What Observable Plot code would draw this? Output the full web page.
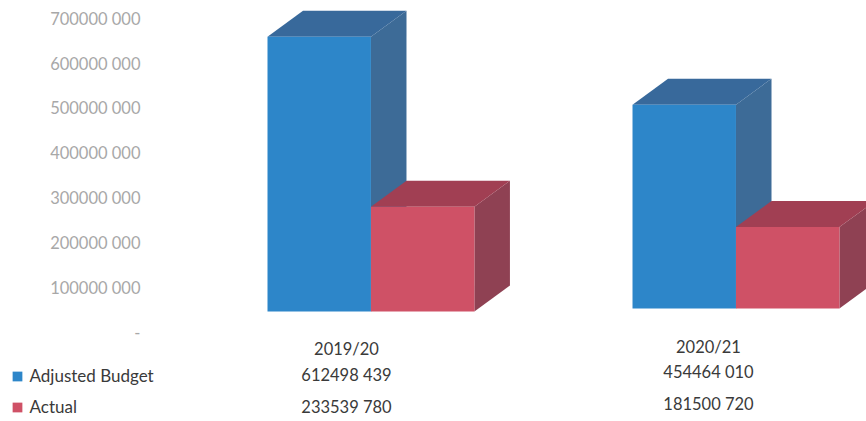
<!DOCTYPE html>
<html>
<head>
<meta charset="utf-8">
<script src="https://cdn.jsdelivr.net/npm/d3@7"></script>
<script src="https://cdn.jsdelivr.net/npm/@observablehq/plot@0.6"></script>
<style>
  html, body { margin: 0; padding: 0; background: #fff; }
  svg { display: block; }
</style>
</head>
<body>
<div id="chart"></div>
<script>
// Financial years and their two budget series
const years = ["2019/20", "2020/21"];
const adjustedBudget = [612498439, 454464010];
const actual = [233539780, 181500720];
const yTicks = [0, 100000000, 200000000, 300000000, 400000000, 500000000, 600000000, 700000000];

// Horizontal placement, in bar widths
const barStart = [1.177, 4.67];
const labelCentre = [1.933, 5.397];
const barWidth = 0.99;

// Extruded depth of each box: sideways in bar widths, upward in currency units
const depthX = 0.34;
const depthY = 58000000;
// The front plane of each group stands above the back wall's zero line
const floorLift = [49000000, 55700000];

const series = [
  {name: "Adjusted Budget", values: adjustedBudget, offset: 0, front: "#2d86c9", side: "#3d6b97", top: "#38699b"},
  {name: "Actual", values: actual, offset: 1, front: "#cf5166", side: "#8f4153", top: "#a13f53"}
];

// Each box contributes three closed faces, back faces first
const faces = [];
years.forEach((year, g) => {
  series.forEach((s) => {
    const x0 = barStart[g] + s.offset * barWidth;
    const x1 = x0 + barWidth;
    const y0 = floorLift[g];
    const y1 = s.values[g] + floorLift[g];
    const add = (face, fill, corners) =>
      corners.forEach(([x, y]) => faces.push({id: `${year} ${s.name} ${face}`, fill, x, y}));
    add("side", s.side, [[x1, y0], [x1 + depthX, y0 + depthY], [x1 + depthX, y1 + depthY], [x1, y1]]);
    add("top", s.top, [[x0, y1], [x1, y1], [x1 + depthX, y1 + depthY], [x0 + depthX, y1 + depthY]]);
    add("front", s.front, [[x0, y0], [x1, y0], [x1, y1], [x0, y1]]);
  });
});

const spaced = (v) => { const t = String(v); return t.slice(0, -3) + " " + t.slice(-3); };
const font = "Lato, 'Open Sans', sans-serif";
const labelColor = "#3a3a3a";
const plotLeft = 144;

// Table rows under each group: pixel offset from the top of the frame per row
const rowOffsets = [[349, 375, 407], [347, 372, 404]];
const tableMarks = years.flatMap((year, g) => [
  [year, rowOffsets[g][0]],
  [spaced(adjustedBudget[g]), rowOffsets[g][1]],
  [spaced(actual[g]), rowOffsets[g][2]]
].map(([label, dy]) => Plot.text([label], {
  x: () => labelCentre[g],
  text: (d) => d,
  frameAnchor: "top",
  lineAnchor: "middle",
  dy,
  fontSize: 16.5,
  fill: labelColor
})));

// Legend sits in the left margin, beside the table rows
const legendMarks = series.flatMap((s, i) => {
  const dy = [376, 407][i];
  return [
    Plot.dot([s.name], {frameAnchor: "top-left", dx: 17 - plotLeft, dy, symbol: "square", r: 5.5, fill: s.front, stroke: "none"}),
    Plot.text([s.name], {text: (d) => d, frameAnchor: "top-left", lineAnchor: "middle", textAnchor: "start", dx: 29 - plotLeft, dy, fontSize: 17, fill: labelColor})
  ];
});

const chart = Plot.plot({
  width: 866,
  height: 421,
  marginTop: 0,
  marginRight: 0,
  marginBottom: 0,
  marginLeft: plotLeft,
  style: {fontFamily: font, background: "#fff"},
  x: {domain: [0, 722 / 104.5], axis: null},
  y: {domain: [0, 700000000], range: [333, 19]},
  color: {type: "identity"},
  marks: [
    Plot.axisY({
      ticks: yTicks,
      tickFormat: (v) => (v === 0 ? "-" : spaced(v)),
      tickSize: 0,
      tickPadding: 4,
      label: null,
      fontSize: 16.5,
      color: "#a8a8a8"
    }),
    Plot.line(faces, {x: "x", y: "y", z: "id", fill: "fill", stroke: "none"}),
    ...tableMarks,
    ...legendMarks
  ]
});

document.getElementById("chart").append(chart);
</script>
</body>
</html>
